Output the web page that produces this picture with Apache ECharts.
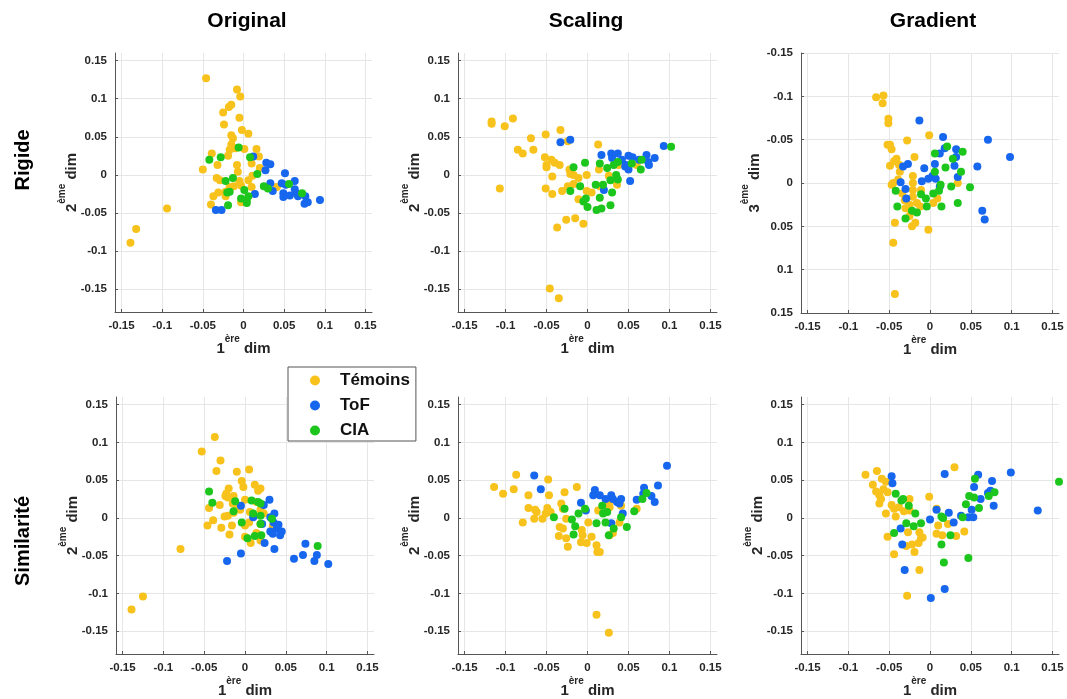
<!DOCTYPE html>
<html>
<head>
<meta charset="utf-8">
<script src="https://cdn.jsdelivr.net/npm/echarts@6/dist/echarts.min.js"></script>
<style>
html,body{margin:0;padding:0;background:#fff;}
#main{width:1067px;height:699px;}
</style>
</head>
<body>
<div id="main"></div>
<script>
// ---- labels ----
const columnTitles = ['Original', 'Scaling', 'Gradient'];
const rowTitles = ['Rigide', 'Similarité'];
const groupNames = ['Témoins', 'ToF', 'CIA'];
const tickValues = [-0.15, -0.1, -0.05, 0, 0.05, 0.1, 0.15];

// ---- Rigide / Original ----
const rigOrigTemoins = [[-0.046,0.127],[-0.008,0.112],[-0.004,0.103],[-0.015,0.092],[-0.018,0.089],[-0.025,0.082],[-0.005,0.075],[-0.024,0.066],[-0.002,0.059],[0.006,0.054],[-0.015,0.052],[-0.013,0.048],[-0.015,0.040],[-0.017,0.033],[-0.010,0.035],[0.001,0.034],[0.016,0.034],[-0.039,0.028],[-0.019,0.025],[0.019,0.024],[-0.032,0.013],[-0.050,0.007],[-0.008,0.013],[0.010,0.015],[0.020,0.009],[-0.007,0.004],[-0.033,-0.004],[-0.029,-0.007],[-0.005,-0.008],[0.006,-0.007],[0.011,-0.001],[-0.017,-0.016],[-0.012,-0.015],[-0.003,-0.014],[0.010,-0.016],[0.041,-0.016],[-0.031,-0.023],[-0.037,-0.028],[-0.022,-0.028],[-0.040,-0.039],[-0.003,-0.036],[-0.094,-0.044],[-0.132,-0.071],[-0.139,-0.089],[-0.022,-0.022]];
const rigOrigToF = [[0.012,0.024],[0.028,0.016],[0.033,0.014],[0.027,0.006],[0.051,0.002],[0.033,-0.011],[0.047,-0.011],[0.052,-0.013],[0.063,-0.008],[0.036,-0.021],[0.014,-0.025],[0.049,-0.024],[0.063,-0.019],[0.049,-0.029],[0.057,-0.027],[0.067,-0.028],[0.076,-0.028],[0.075,-0.038],[0.079,-0.036],[0.094,-0.033],[-0.034,-0.046],[-0.027,-0.046],[0.065,-0.024]];
const rigOrigCIA = [[-0.042,0.020],[-0.028,0.023],[-0.006,0.036],[0.008,0.023],[0.017,0.001],[-0.022,-0.008],[-0.013,-0.004],[-0.020,-0.023],[-0.017,-0.022],[-0.019,-0.040],[0.001,-0.020],[-0.003,-0.031],[0.004,-0.034],[0.006,-0.028],[0.025,-0.015],[0.030,-0.018],[0.056,-0.012],[0.072,-0.024],[0.004,-0.037]];

// ---- Rigide / Scaling ----
const rigScalTemoins = [[-0.117,0.070],[-0.117,0.067],[-0.101,0.064],[-0.091,0.074],[-0.069,0.048],[-0.051,0.053],[-0.033,0.059],[-0.024,0.044],[-0.085,0.033],[-0.079,0.028],[-0.066,0.033],[-0.052,0.023],[-0.044,0.020],[-0.040,0.016],[-0.050,0.013],[-0.034,0.013],[-0.050,0.010],[-0.022,0.007],[-0.021,0.001],[-0.017,0],[-0.043,-0.002],[-0.001,0],[-0.011,-0.004],[-0.107,-0.018],[-0.051,-0.018],[-0.043,-0.025],[-0.031,-0.021],[-0.024,-0.015],[-0.017,-0.012],[-0.011,-0.032],[-0.001,-0.021],[0.005,-0.023],[0.013,0.040],[0.014,0.007],[0.015,-0.015],[0.026,-0.001],[0.036,-0.013],[0.038,0.013],[0.060,0.013],[-0.026,-0.059],[-0.015,-0.057],[-0.005,-0.064],[-0.037,-0.069],[-0.046,-0.149],[-0.035,-0.162]];
const rigScalToF = [[-0.033,0.043],[-0.021,0.046],[0.017,0.026],[0.029,0.028],[0.037,0.028],[0.030,0.022],[0.042,0.020],[0.050,0.025],[0.055,0.023],[0.063,0.020],[0.072,0.026],[0.074,0.017],[0.082,0.022],[0.075,0.013],[0.046,0.011],[0.050,0.007],[0.047,0.013],[0.052,-0.008],[0.020,-0.020],[0.093,0.038]];
const rigScalCIA = [[-0.017,0.010],[-0.003,0.016],[0.015,0.015],[0.024,0.009],[0.032,0.013],[0.037,0.017],[0.035,0],[0.037,-0.006],[0.054,0.015],[0.065,0.007],[0.066,0.020],[0.102,0.037],[-0.021,-0.021],[-0.009,-0.015],[0.010,-0.013],[0.019,-0.013],[0.028,-0.007],[0.030,-0.023],[0.015,-0.030],[-0.005,-0.035],[0,-0.042],[0.011,-0.046],[0.017,-0.044],[0.028,-0.040],[-0.002,-0.031]];

// ---- Rigide / Gradient (1st vs 3rd dim) ----
const rigGradTemoins = [[-0.066,-0.099],[-0.057,-0.101],[-0.058,-0.092],[-0.051,-0.074],[-0.051,-0.069],[-0.028,-0.049],[-0.001,-0.055],[-0.052,-0.044],[-0.049,-0.044],[-0.047,-0.039],[-0.041,-0.028],[-0.044,-0.025],[-0.049,-0.020],[-0.038,-0.021],[-0.019,-0.030],[-0.037,-0.013],[-0.021,-0.008],[-0.039,-0.004],[-0.045,0],[-0.047,0.002],[-0.021,0],[-0.034,0.012],[-0.021,0.008],[-0.011,0.008],[-0.021,0.016],[-0.031,0.020],[-0.025,0.025],[-0.016,0.023],[-0.012,0.027],[-0.030,0.029],[-0.023,0.033],[-0.025,0.038],[-0.018,0.046],[-0.022,0.050],[-0.043,0.046],[-0.002,0.054],[0.004,0.023],[0.009,0.018],[0.034,0],[-0.045,0.069],[-0.043,0.128]];
const rigGradToF = [[-0.013,-0.072],[0.016,-0.053],[0.071,-0.050],[0.098,-0.030],[0.018,-0.040],[0.012,-0.034],[0.032,-0.039],[0.032,-0.030],[0.030,-0.020],[-0.027,-0.022],[-0.033,-0.019],[-0.007,-0.017],[0.006,-0.022],[0.058,-0.019],[0.034,-0.007],[-0.002,-0.005],[0.003,-0.008],[0.007,-0.005],[-0.010,-0.002],[-0.036,-0.001],[-0.030,0.007],[-0.029,0.018],[0.012,0.004],[0.064,0.032],[0.067,0.042]];
const rigGradCIA = [[0.021,-0.042],[0.040,-0.036],[0.006,-0.034],[0.028,-0.028],[0.019,-0.018],[0.038,-0.013],[0.013,0.002],[0.026,0.004],[0.049,0.005],[0.011,0.009],[0.004,0.012],[-0.042,0.009],[-0.011,0.013],[-0.005,0.018],[-0.040,0.027],[-0.004,0.027],[0.014,0.027],[0.034,0.023],[-0.022,0.032],[-0.016,0.034],[-0.030,0.041],[0.006,-0.013]];

// ---- Similarité / Original ----
const simOrigTemoins = [[-0.037,0.107],[-0.053,0.088],[-0.030,0.076],[-0.035,0.062],[-0.010,0.061],[0.005,0.064],[-0.004,0.049],[-0.002,0.041],[0.012,0.044],[0.019,0.039],[0.016,0.036],[-0.020,0.039],[-0.023,0.032],[-0.024,0.029],[-0.021,0.027],[-0.014,0.029],[-0.031,0.017],[-0.015,0.019],[0,0.024],[0.014,0.021],[-0.010,0.014],[-0.006,0.011],[-0.014,0.007],[-0.044,0.013],[0.006,0.008],[0.019,0.011],[0.023,0.006],[-0.025,0.002],[-0.021,0.003],[-0.039,-0.003],[-0.046,-0.010],[-0.029,-0.013],[-0.016,-0.010],[-0.019,-0.022],[0,-0.010],[0.005,-0.006],[0.019,-0.008],[0.034,-0.011],[0,-0.025],[0.007,-0.033],[0.019,-0.030],[0.014,-0.020],[-0.079,-0.041],[-0.125,-0.104],[-0.139,-0.121]];
const simOrigToF = [[-0.005,0.016],[0.030,0.024],[0.023,0.017],[0.010,0.001],[0.031,0.001],[0.036,0.006],[0.035,-0.006],[0.041,-0.009],[0.039,-0.014],[0.045,-0.018],[0.043,-0.023],[0.031,-0.018],[0.034,-0.021],[0.024,-0.033],[0.036,-0.041],[-0.005,-0.047],[-0.022,-0.057],[0.060,-0.054],[0.071,-0.049],[0.074,-0.034],[0.088,-0.049],[0.085,-0.057],[0.102,-0.061],[0.021,-0.008]];
const simOrigCIA = [[-0.044,0.035],[-0.040,0.020],[-0.012,0.022],[-0.014,0.009],[0.008,0.023],[0.016,0.021],[0.019,0.019],[0.010,0.006],[0.019,0.003],[-0.004,-0.006],[0.019,-0.008],[0.033,-0.001],[0.012,-0.024],[0.020,-0.023],[0.003,-0.027],[0.089,-0.037]];

// ---- Similarité / Scaling ----
const simScalTemoins = [[-0.114,0.041],[-0.103,0.032],[-0.087,0.057],[-0.090,0.038],[-0.072,0.030],[-0.072,0.013],[-0.079,-0.006],[-0.064,0.011],[-0.062,0.008],[-0.065,-0.001],[-0.055,-0.001],[-0.048,0.051],[-0.047,0.030],[-0.049,0.013],[-0.045,0.008],[-0.051,0.006],[-0.028,0.034],[-0.032,0.019],[-0.030,0.012],[-0.034,-0.012],[-0.030,-0.014],[-0.035,-0.024],[-0.026,-0.027],[-0.024,-0.038],[-0.026,-0.001],[-0.013,0.041],[-0.007,-0.016],[-0.006,-0.023],[-0.008,-0.032],[-0.001,-0.033],[0.001,-0.006],[0.005,-0.025],[0.011,-0.036],[0.012,-0.045],[0.015,-0.045],[0.013,0.010],[0.026,0.019],[0.027,0.014],[0.027,-0.023],[0.031,-0.020],[0.039,-0.006],[0.041,0.016],[0.060,0.012],[0.011,-0.128],[0.026,-0.152]];
const simScalToF = [[-0.065,0.056],[-0.057,0.038],[-0.008,0.020],[-0.002,0.010],[0.007,0.030],[0.009,0.037],[0.015,0.030],[0.022,0.025],[0.029,0.030],[0.031,0.025],[0.036,0.021],[0.041,0.025],[0.039,0.019],[0.043,0.006],[0.060,0.024],[0.069,0.040],[0.068,0.032],[0.078,0.029],[0.086,0.043],[0.082,0.021],[0.097,0.069],[0.029,-0.007]];
const simScalCIA = [[-0.041,0.001],[-0.028,0.012],[-0.019,-0.002],[-0.015,-0.011],[-0.017,-0.022],[-0.011,0.006],[-0.003,0.012],[0.011,-0.007],[0.018,0.016],[0.019,0.006],[0.024,0.008],[0.022,-0.006],[0.026,-0.023],[0.032,-0.014],[0.041,0.001],[0.048,-0.012],[0.057,0.009],[0.067,0.025],[0.072,0.033]];

// ---- Similarité / Gradient ----
const simGradTemoins = [[-0.079,0.057],[-0.065,0.062],[-0.070,0.044],[-0.059,0.052],[-0.054,0.048],[-0.057,0.038],[-0.066,0.035],[-0.062,0.030],[-0.060,0.025],[-0.062,0.019],[-0.052,0.034],[-0.047,0.017],[-0.054,0.006],[-0.044,0.012],[-0.038,0.014],[-0.042,0.002],[-0.032,0.009],[-0.025,0.025],[-0.025,0.010],[-0.052,-0.025],[-0.044,-0.048],[-0.027,-0.019],[-0.029,-0.037],[-0.022,-0.035],[-0.019,-0.045],[-0.013,-0.019],[-0.011,-0.027],[-0.014,-0.033],[-0.009,-0.026],[-0.013,-0.069],[-0.028,-0.103],[-0.001,0.028],[0.008,0.012],[0.010,-0.010],[0.008,-0.021],[0.015,-0.023],[0.022,-0.008],[0.032,-0.024],[0.042,-0.018],[0.030,0.067]];
const simGradToF = [[-0.047,0.055],[-0.046,0.046],[-0.036,-0.014],[-0.034,-0.035],[-0.031,-0.069],[0,-0.002],[0.008,0.011],[0.018,0.058],[0.018,-0.094],[0.001,-0.106],[0.023,0.007],[0.029,-0.006],[0.038,0.003],[0.047,0.001],[0.053,0.001],[0.051,0.011],[0.054,0.041],[0.059,0.057],[0.062,0.025],[0.071,0.033],[0.076,0.049],[0.074,0.036],[0.078,0.016],[0.099,0.060],[0.132,0.010]];
const simGradCIA = [[-0.042,0.032],[-0.035,0.023],[-0.033,0.025],[-0.026,0.016],[-0.018,0.006],[-0.029,-0.007],[-0.020,-0.011],[-0.011,-0.007],[-0.044,-0.020],[0.014,0.002],[0.016,0],[0.025,-0.023],[0.014,-0.035],[0.017,-0.059],[0.047,-0.053],[0.044,0.018],[0.048,0.029],[0.054,0.027],[0.055,0.052],[0.060,0.013],[0.072,0.029],[0.079,0.034],[0.158,0.048],[0.040,0.001]];

// ---- build ----
const FONT = 'Liberation Sans, Arial, sans-serif';
const COLORS = ['#F8C21C', '#1766EE', '#1DC61D'];
const panels = [
  {data:[rigOrigTemoins, rigOrigToF, rigOrigCIA], grid:{left:115, top:53, width:257, height:259}, ymin:-0.18, ymax:0.16, inv:false, yname:'2', gap:36},
  {data:[rigScalTemoins, rigScalToF, rigScalCIA], grid:{left:458, top:53, width:259, height:259}, ymin:-0.18, ymax:0.16, inv:false, yname:'2', gap:36},
  {data:[rigGradTemoins, rigGradToF, rigGradCIA], grid:{left:801, top:53, width:258, height:260}, ymin:-0.15, ymax:0.15, inv:true, yname:'3', gap:39},
  {data:[simOrigTemoins, simOrigToF, simOrigCIA], grid:{left:116, top:397, width:258, height:259}, ymin:-0.18, ymax:0.16, inv:false, yname:'2', gap:36},
  {data:[simScalTemoins, simScalToF, simScalCIA], grid:{left:458, top:397, width:259, height:259}, ymin:-0.18, ymax:0.16, inv:false, yname:'2', gap:36},
  {data:[simGradTemoins, simGradToF, simGradCIA], grid:{left:801, top:397, width:258, height:259}, ymin:-0.18, ymax:0.16, inv:false, yname:'2', gap:36}
];
const fmt = v => (Math.abs(v) < 1e-9 ? '0' : String(+(+v).toFixed(2)));
const nameStyle = {
  fontFamily: FONT, color:'#262626',
  rich: {
    m: {fontSize:15, fontWeight:'bold', fontFamily:FONT, color:'#262626', lineHeight:22, verticalAlign:'bottom'},
    s: {fontSize:10, fontWeight:'bold', fontFamily:FONT, color:'#262626', lineHeight:10, verticalAlign:'top'}
  }
};
function axisCommon() {
  return {
    type:'value',
    axisLine:{show:true, onZero:false, lineStyle:{color:'#555', width:1}},
    axisTick:{show:true, inside:true, length:3, customValues:tickValues, lineStyle:{color:'#555'}},
    axisLabel:{customValues:tickValues, formatter:fmt, fontSize:11.5, fontWeight:'bold', color:'#262626', fontFamily:FONT},
    splitLine:{show:true, lineStyle:{color:'#e6e6e6', width:1}},
    nameLocation:'middle',
    nameMoveOverlap:false,
    nameTextStyle: nameStyle
  };
}
const grid = [], xAxis = [], yAxis = [], series = [];
panels.forEach((p, i) => {
  grid.push(Object.assign({containLabel:false}, p.grid));
  xAxis.push(Object.assign(axisCommon(), {
    gridIndex:i, min:-0.158, max:0.158, position:'bottom',
    name:'{m|1}{s|ère}{m| dim}', nameGap:22
  }));
  yAxis.push(Object.assign(axisCommon(), {
    gridIndex:i, min:p.ymin, max:p.ymax, inverse:p.inv, position:'left',
    name:'{m|' + p.yname + '}{s|ème}{m| dim}', nameGap:p.gap
  }));
  p.data.forEach((d, k) => {
    series.push({
      type:'scatter', name:groupNames[k], xAxisIndex:i, yAxisIndex:i,
      data:d, symbol:'circle', symbolSize:8, clip:false,
      itemStyle:{color:COLORS[k], opacity:1}
    });
  });
});

const colCenters = [247, 586, 933];
const graphics = [];
columnTitles.forEach((t, i) => {
  graphics.push({type:'text', x:colCenters[i], y:21, z:10,
    style:{text:t, font:'bold 21px ' + FONT, fill:'#000', align:'center', verticalAlign:'middle'}});
});
const rowCenters = [160, 541];
rowTitles.forEach((t, i) => {
  graphics.push({type:'text', x:23, y:rowCenters[i], rotation:Math.PI/2, z:10,
    style:{text:t, font:'bold 20px ' + FONT, fill:'#000', align:'center', verticalAlign:'middle'}});
});

const chart = echarts.init(document.getElementById('main'), null, {renderer:'canvas'});
chart.setOption({
  animation:false,
  backgroundColor:'#fff',
  grid, xAxis, yAxis, series,
  graphic: graphics,
  legend:{
    orient:'vertical', left:288, top:367, z:20,
    data:groupNames, icon:'circle',
    itemWidth:40, itemHeight:10, itemGap:8,
    padding:[5,6,2,22],
    backgroundColor:'#fff', borderColor:'#555', borderWidth:1,
    textStyle:{fontSize:17, fontWeight:'bold', color:'#111', fontFamily:FONT}
  }
});
</script>
</body>
</html>
